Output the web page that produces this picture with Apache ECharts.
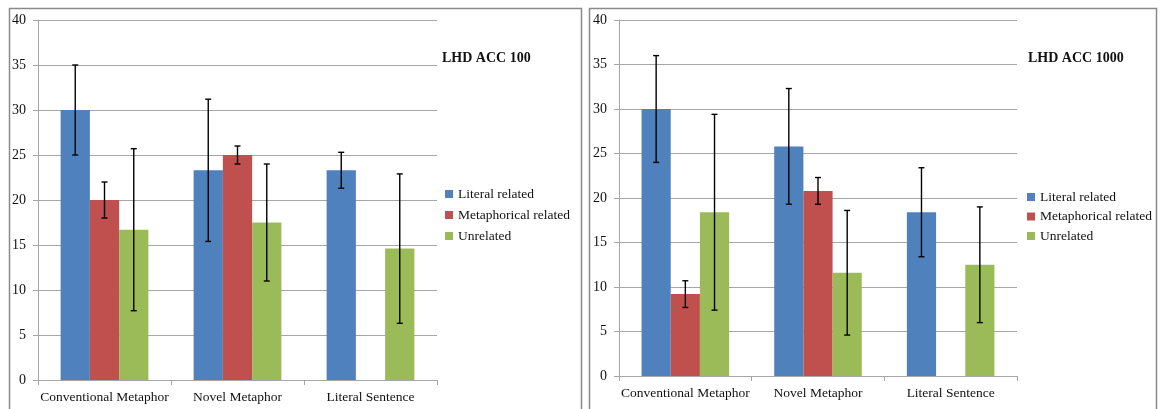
<!DOCTYPE html>
<html>
<head>
<meta charset="utf-8">
<script src="https://cdn.jsdelivr.net/npm/echarts@6/dist/echarts.min.js"></script>
<style>
  html, body { margin: 0; padding: 0; background: #fff; }
  #chart { width: 1162px; height: 409px; }
</style>
</head>
<body>
<div id="chart"></div>
<script>
// Mean scores per condition with standard deviations (error bars)
const categories = ['Conventional Metaphor', 'Novel Metaphor', 'Literal Sentence'];
const seriesNames = ['Literal related', 'Metaphorical related', 'Unrelated'];
const yTicks = [0, 5, 10, 15, 20, 25, 30, 35, 40];

// LHD ACC 100
const literal100 = [30, 23.3, 23.3];
const literal100Sd = [5, 7.9, 2];
const metaphor100 = [20, 25, null];
const metaphor100Sd = [2, 1, null];
const unrelated100 = [16.7, 17.5, 14.6];
const unrelated100Sd = [9, 6.5, 8.3];

// LHD ACC 1000
const literal1000 = [30, 25.8, 18.4];
const literal1000Sd = [6, 6.5, 5];
const metaphor1000 = [9.2, 20.8, null];
const metaphor1000Sd = [1.5, 1.5, null];
const unrelated1000 = [18.4, 11.6, 12.5];
const unrelated1000Sd = [11, 7, 6.5];

const colors = ['#4F81BD', '#C0504D', '#9BBB59'];
const serif = "'Liberation Serif', 'DejaVu Serif', serif";
const gridColor = '#a6a6a6';
const CAT_GAP = 0.34;

const panels = [
  { title: 'LHD ACC 100', means: [literal100, metaphor100, unrelated100], sds: [literal100Sd, metaphor100Sd, unrelated100Sd] },
  { title: 'LHD ACC 1000', means: [literal1000, metaphor1000, unrelated1000], sds: [literal1000Sd, metaphor1000Sd, unrelated1000Sd] }
];

function errorBarSeries(panelIdx, slot, means, sds) {
  const data = [];
  means.forEach((m, i) => { if (m != null && sds[i] != null) data.push([i, m, sds[i]]); });
  return {
    type: 'custom',
    xAxisIndex: panelIdx,
    yAxisIndex: panelIdx,
    z: 5,
    silent: true,
    encode: { x: 0, y: 1 },
    data: data,
    renderItem: function (params, api) {
      const cat = api.value(0), mean = api.value(1), sd = api.value(2);
      const band = api.size([1, 0])[0];
      const barW = band * (1 - CAT_GAP) / 3;
      const off = (slot - 1) * barW;
      const top = api.coord([cat, mean + sd]);
      const bot = api.coord([cat, mean - sd]);
      const x = top[0] + off;
      const cap = 3;
      const style = { stroke: '#000', lineWidth: 1.4 };
      return {
        type: 'group',
        children: [
          { type: 'line', shape: { x1: x, y1: top[1], x2: x, y2: bot[1] }, style: style },
          { type: 'line', shape: { x1: x - cap, y1: top[1], x2: x + cap, y2: top[1] }, style: style },
          { type: 'line', shape: { x1: x - cap, y1: bot[1], x2: x + cap, y2: bot[1] }, style: style }
        ]
      };
    }
  };
}

const grids = [
  { left: 38, top: 20, width: 399, height: 360 },
  { left: 619, top: 20, width: 398, height: 356 }
];

const xAxes = grids.map((g, i) => ({
  type: 'category',
  gridIndex: i,
  data: categories,
  axisLine: { lineStyle: { color: gridColor, width: 1 } },
  axisTick: { show: true, length: 5, lineStyle: { color: gridColor } },
  axisLabel: { color: '#111', fontFamily: serif, fontSize: 13.5, margin: 10, interval: 0 }
}));

const yAxes = grids.map((g, i) => ({
  type: 'value',
  gridIndex: i,
  min: yTicks[0],
  max: yTicks[yTicks.length - 1],
  interval: yTicks[1] - yTicks[0],
  axisLine: { show: true, lineStyle: { color: gridColor, width: 1 } },
  axisTick: { show: true, length: 5, lineStyle: { color: gridColor } },
  splitLine: { lineStyle: { color: gridColor, width: 1 } },
  axisLabel: { color: '#111', fontFamily: serif, fontSize: 14, margin: 12 }
}));

const series = [];
panels.forEach((p, pi) => {
  p.means.forEach((vals, si) => {
    series.push({
      type: 'bar',
      name: seriesNames[si],
      xAxisIndex: pi,
      yAxisIndex: pi,
      data: vals,
      barGap: '0%',
      barCategoryGap: (CAT_GAP * 100) + '%',
      itemStyle: { color: colors[si] },
      emphasis: { disabled: true }
    });
  });
  p.means.forEach((vals, si) => {
    series.push(errorBarSeries(pi, si, vals, p.sds[si]));
  });
});

const legendBase = {
  orient: 'vertical',
  padding: 0,
  data: seriesNames.map(n => ({ name: n, icon: 'rect' })),
  itemWidth: 8,
  itemHeight: 8,
  textStyle: { color: '#111', fontFamily: serif, fontSize: 13.5 },
  selectedMode: false
};

const titleStyle = { fontFamily: serif, fontSize: 14, fontWeight: 'bold', color: '#111' };

const option = {
  animation: false,
  backgroundColor: '#fff',
  color: colors,
  grid: grids,
  xAxis: xAxes,
  yAxis: yAxes,
  title: [
    { text: panels[0].title, left: 442, top: 51, padding: 0, textStyle: titleStyle },
    { text: panels[1].title, left: 1028, top: 51, padding: 0, textStyle: titleStyle }
  ],
  legend: [
    Object.assign({}, legendBase, { left: 445, top: 187, itemGap: 7 }),
    Object.assign({}, legendBase, { left: 1027, top: 190, itemGap: 5.5 })
  ],
  graphic: [
    { type: 'rect', shape: { x: 9.5, y: 8.5, width: 572, height: 420 }, style: { fill: 'none', stroke: '#8a8a8a', lineWidth: 1.5 }, silent: true },
    { type: 'rect', shape: { x: 589.5, y: 8.5, width: 567, height: 420 }, style: { fill: 'none', stroke: '#8a8a8a', lineWidth: 1.5 }, silent: true }
  ],
  series: series
};

const chart = echarts.init(document.getElementById('chart'), null, { renderer: 'canvas' });
chart.setOption(option);
</script>
</body>
</html>
